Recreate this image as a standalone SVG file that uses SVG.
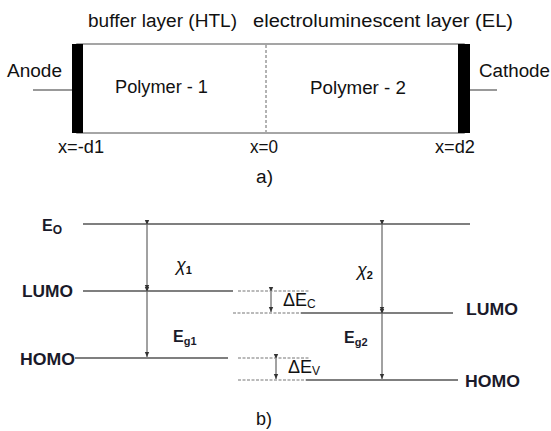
<svg xmlns="http://www.w3.org/2000/svg" width="551" height="431" viewBox="0 0 551 431">
<defs>
<marker id="ah" markerWidth="6" markerHeight="6" refX="5" refY="3" orient="auto" markerUnits="userSpaceOnUse">
<path d="M0,0.8 L5,3 L0,5.2 Z" fill="#333"/>
</marker>
<style>
text{font-family:"Liberation Sans",Arial,sans-serif;fill:#111}
.t{font-size:18px}
.b{font-size:16px;font-weight:bold;fill:#1a1a2a}
.g{font-size:18px}
.lvl{stroke:#555;stroke-width:1.6;fill:none}
.dash{stroke:#777;stroke-width:1.2;stroke-dasharray:3 1.5;fill:none}
.arr{stroke:#444;stroke-width:1;marker-start:url(#ah);marker-end:url(#ah)}
.wire{stroke:#999;stroke-width:2}
</style>
</defs>
<rect width="551" height="431" fill="#fff"/>
<g id="device">
<rect x="77" y="44" width="387" height="89" fill="none" stroke="#888" stroke-width="1.5"/>
<line x1="266" y1="45" x2="266" y2="132" stroke="#666" stroke-width="1" stroke-dasharray="3 2"/>
</g>
<g id="anode">
<rect x="72" y="44" width="11" height="89" fill="#000"/>
<line class="wire" x1="33" y1="90" x2="72" y2="90"/>
<text class="t" x="7" y="77" textLength="55" lengthAdjust="spacingAndGlyphs">Anode</text>
</g>
<g id="cathode">
<rect x="458" y="44" width="12" height="89" fill="#000"/>
<line class="wire" x1="470" y1="90" x2="497" y2="90"/>
<text class="t" x="479" y="77" textLength="71" lengthAdjust="spacingAndGlyphs">Cathode</text>
</g>
<g id="labels-a">
<text class="t" x="88" y="27" textLength="149" lengthAdjust="spacingAndGlyphs">buffer layer (HTL)</text>
<text class="t" x="253" y="27" textLength="260" lengthAdjust="spacingAndGlyphs">electroluminescent layer (EL)</text>
<text class="t" x="115" y="93" textLength="93" lengthAdjust="spacingAndGlyphs">Polymer - 1</text>
<text class="t" x="310" y="94" textLength="96" lengthAdjust="spacingAndGlyphs">Polymer - 2</text>
<text class="t" x="58" y="153" textLength="46" lengthAdjust="spacingAndGlyphs">x=-d1</text>
<text class="t" x="250" y="153" textLength="28" lengthAdjust="spacingAndGlyphs">x=0</text>
<text class="t" x="435" y="153" textLength="40" lengthAdjust="spacingAndGlyphs">x=d2</text>
<text class="t" x="256" y="183" textLength="17" lengthAdjust="spacingAndGlyphs">a)</text>
</g>
<g id="levels">
<line class="lvl" x1="83" y1="224" x2="470" y2="224"/>
<line class="lvl" x1="83" y1="291" x2="233" y2="291"/>
<line class="lvl" x1="75" y1="358" x2="228" y2="358"/>
<line class="dash" x1="238" y1="291" x2="309" y2="291"/>
<line class="dash" x1="233" y1="313" x2="301" y2="313"/>
<line class="lvl" x1="301" y1="313" x2="453" y2="313"/>
<line class="dash" x1="238" y1="358" x2="309" y2="358"/>
<line class="dash" x1="238" y1="380" x2="306" y2="380"/>
<line class="lvl" x1="306" y1="380" x2="458" y2="380"/>
</g>
<g id="connectors">
<line class="arr" x1="147" y1="225" x2="147" y2="290"/>
<line class="arr" x1="147" y1="292" x2="147" y2="357"/>
<line class="arr" x1="382" y1="225" x2="382" y2="312"/>
<line class="arr" x1="382" y1="314" x2="382" y2="379"/>
<line class="arr" x1="271" y1="292" x2="271" y2="312"/>
<line class="arr" x1="276" y1="359" x2="276" y2="379"/>
</g>
<g id="labels-b">
<text class="b" x="42" y="231">E<tspan font-size="12" dy="3">O</tspan></text>
<text class="b" x="22" y="297" textLength="51" lengthAdjust="spacingAndGlyphs">LUMO</text>
<text class="b" x="20" y="365" textLength="55" lengthAdjust="spacingAndGlyphs">HOMO</text>
<text class="b" x="466" y="315" textLength="52" lengthAdjust="spacingAndGlyphs">LUMO</text>
<text class="b" x="465" y="387" textLength="55" lengthAdjust="spacingAndGlyphs">HOMO</text>
<text class="g" x="176" y="271" font-style="italic">χ<tspan font-size="11" font-weight="bold" font-style="normal" dy="3">1</tspan></text>
<text class="g" x="357" y="276" font-style="italic">χ<tspan font-size="11" font-weight="bold" font-style="normal" dy="3">2</tspan></text>
<text class="b" x="173" y="342">E<tspan font-size="11" dy="3">g1</tspan></text>
<text class="b" x="344" y="343">E<tspan font-size="11" dy="3">g2</tspan></text>
<text class="g" x="283" y="306">ΔE<tspan font-size="12" dy="2">C</tspan></text>
<text class="g" x="288" y="373">ΔE<tspan font-size="12" dy="2">V</tspan></text>
<text class="t" x="256" y="425" textLength="16" lengthAdjust="spacingAndGlyphs">b)</text>
</g>
</svg>
